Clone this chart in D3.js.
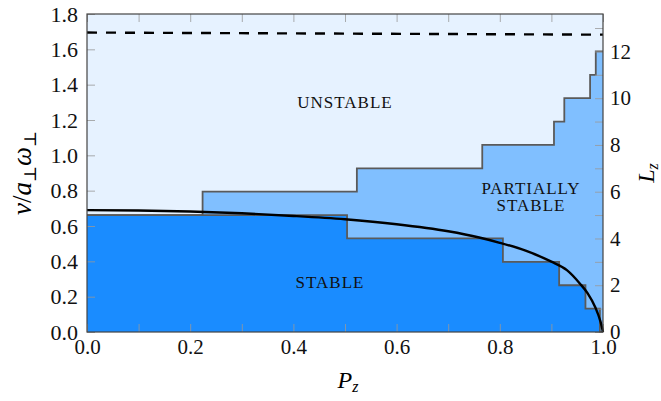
<!DOCTYPE html>
<html>
<head>
<meta charset="utf-8">
<script src="https://cdn.jsdelivr.net/npm/d3@7/dist/d3.min.js"></script>
<style>
  body { margin: 0; background: #fff; }
</style>
</head>
<body>
<div id="chart"></div>
<script>
// step boundaries, in Lz units (right axis)
const stableEdges = [0, 0.504, 0.806, 0.915, 0.966, 0.994, 1];
const stableLz = [5, 4, 3, 2, 1, 0, 0];
const partialEdges = [0, 0.224, 0.523, 0.766, 0.905, 0.925, 0.975, 0.986, 1];
const partialLz = [5, 6, 7, 8, 9, 10, 11, 12, 12];

// solid black curve (left axis units)
const curvePz = [0, 0.1, 0.2, 0.3, 0.4, 0.5, 0.6, 0.7, 0.76, 0.8, 0.85, 0.9, 0.93, 0.955, 0.97, 0.985, 0.995, 1];
const curveV = [0.690, 0.688, 0.682, 0.672, 0.657, 0.638, 0.610, 0.570, 0.535, 0.505, 0.460, 0.398, 0.350, 0.275, 0.220, 0.140, 0.060, 0];

// dashed line
const dashPz = [0, 0.5, 1];
const dashV = [1.695, 1.689, 1.683];

// ticks
const xTicks = [0, 0.1, 0.2, 0.3, 0.4, 0.5, 0.6, 0.7, 0.8, 0.9, 1.0];
const yTicks = [0, 0.2, 0.4, 0.6, 0.8, 1.0, 1.2, 1.4, 1.6, 1.8];
const lzTicks = [0, 1, 2, 3, 4, 5, 6, 7, 8, 9, 10, 11, 12, 13];

const FONT = "'Liberation Serif', 'DejaVu Serif', 'Times New Roman', serif";

const W = 661, H = 401;
const margin = { top: 14, left: 87, right: 58, bottom: 69 };
const width = W - margin.left - margin.right;
const height = H - margin.top - margin.bottom;

const svg = d3.select('#chart')
  .append('svg')
  .attr('width', W)
  .attr('height', H)
  .attr('font-family', FONT);

const g = svg.append('g')
  .attr('transform', `translate(${margin.left},${margin.top})`);

const x = d3.scaleLinear().domain([0, 1]).range([0, width]);
const y = d3.scaleLinear().domain([0, 1.8]).range([height, 0]);
const yR = d3.scaleLinear().domain([0, 13.6]).range([height, 0]);

// background = unstable region
g.append('rect')
  .attr('width', width)
  .attr('height', height)
  .attr('fill', '#e6f2ff');

const partial = partialEdges.map((p, i) => ({ p, lz: partialLz[i] }));
const stable = stableEdges.map((p, i) => ({ p, lz: stableLz[i] }));

const area = d3.area()
  .curve(d3.curveStepAfter)
  .x(d => x(d.p))
  .y0(height)
  .y1(d => yR(d.lz));

const stepLine = d3.line()
  .curve(d3.curveStepAfter)
  .x(d => x(d.p))
  .y(d => yR(d.lz));

g.append('path').datum(partial).attr('d', area).attr('fill', '#80bfff');
g.append('path').datum(stable).attr('d', area).attr('fill', '#1a8cff');

g.append('path').datum(partial).attr('d', stepLine)
  .attr('fill', 'none').attr('stroke', '#5a5a5a').attr('stroke-width', 1.8);
g.append('path').datum(stable).attr('d', stepLine)
  .attr('fill', 'none').attr('stroke', '#5a5a5a').attr('stroke-width', 1.8);

// axes (inner ticks)
const fmt = d3.format('.1f');
const tickStyle = sel => {
  sel.attr('font-family', FONT);
  sel.select('.domain').remove();
  sel.selectAll('.tick line').attr('stroke', '#999').attr('stroke-width', 1).attr('opacity', 0.8);
  sel.selectAll('.tick text').attr('font-size', 21).attr('fill', '#111');
};

g.append('g')
  .attr('transform', `translate(0,${height})`)
  .call(d3.axisBottom(x).tickValues(xTicks).tickSizeInner(-8).tickSizeOuter(0).tickPadding(7)
    .tickFormat(d => Math.round(d * 10) % 2 ? '' : fmt(d)))
  .call(tickStyle);

g.append('g')
  .call(d3.axisTop(x).tickValues(xTicks).tickSizeInner(-8).tickSizeOuter(0).tickFormat(''))
  .call(tickStyle);

g.append('g')
  .call(d3.axisLeft(y).tickValues(yTicks).tickSizeInner(-8).tickSizeOuter(0).tickPadding(9).tickFormat(fmt))
  .call(tickStyle)
  .selectAll('.tick text').attr('font-size', 22);

g.append('g')
  .attr('transform', `translate(${width},0)`)
  .call(d3.axisRight(yR).tickValues(lzTicks).tickSizeInner(-8).tickSizeOuter(0).tickPadding(7)
    .tickFormat(d => d % 2 ? '' : d))
  .call(tickStyle);

// curves
g.append('path')
  .datum(curvePz.map((p, i) => [p, curveV[i]]))
  .attr('d', d3.line().curve(d3.curveMonotoneX).x(d => x(d[0])).y(d => y(d[1])))
  .attr('fill', 'none').attr('stroke', '#000').attr('stroke-width', 2.4);

g.append('path')
  .datum(dashPz.map((p, i) => [p, dashV[i]]))
  .attr('d', d3.line().x(d => x(d[0])).y(d => y(d[1])))
  .attr('fill', 'none').attr('stroke', '#000').attr('stroke-width', 2.4)
  .attr('stroke-dasharray', '10,9');

// frame
g.append('rect')
  .attr('width', width)
  .attr('height', height)
  .attr('fill', 'none')
  .attr('stroke', '#444')
  .attr('stroke-width', 1.2);

// region labels
const label = (txt, px, py) => g.append('text')
  .attr('x', px).attr('y', py)
  .attr('text-anchor', 'middle')
  .attr('font-size', 17)
  .attr('letter-spacing', 1)
  .attr('fill', '#111')
  .text(txt);

label('UNSTABLE', 258, 94);
label('PARTIALLY', 444, 180);
label('STABLE', 444, 197);
label('STABLE', 243, 274);

// axis titles
const xt = svg.append('text')
  .attr('x', 348).attr('y', 388)
  .attr('text-anchor', 'middle')
  .attr('font-size', 24);
xt.append('tspan').attr('font-style', 'italic').text('P');
xt.append('tspan').attr('font-style', 'italic').attr('font-size', 16).attr('dy', 4).text('z');

const yt = svg.append('text')
  .attr('transform', 'translate(31,173) rotate(-90)')
  .attr('text-anchor', 'middle')
  .attr('font-size', 27);
yt.append('tspan').attr('font-style', 'italic').text('v');
yt.append('tspan').text('/');
yt.append('tspan').attr('font-style', 'italic').text('a');
yt.append('tspan').attr('font-size', 17).attr('dy', 5).text('⊥');
yt.append('tspan').attr('font-style', 'italic').attr('dy', -5).text('ω');
yt.append('tspan').attr('font-size', 17).attr('dy', 5).text('⊥');

const rt = svg.append('text')
  .attr('transform', 'translate(654,173) rotate(-90)')
  .attr('text-anchor', 'middle')
  .attr('font-size', 24);
rt.append('tspan').attr('font-style', 'italic').text('L');
rt.append('tspan').attr('font-style', 'italic').attr('font-size', 16).attr('dy', 4).text('z');
</script>
</body>
</html>
